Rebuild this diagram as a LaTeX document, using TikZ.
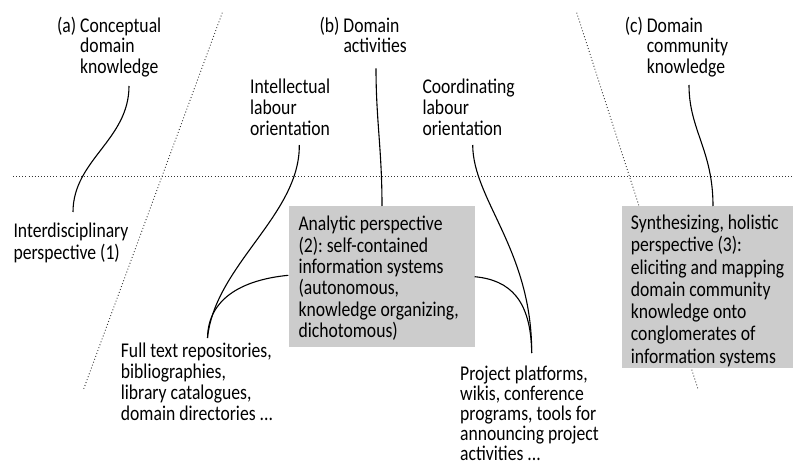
\documentclass[tikz,border=0pt]{standalone}
\usepackage{fontspec}
\setmainfont{Carlito}[FakeStretch=0.84]
\usetikzlibrary{calc}
% first-line strut: puts the first baseline a fixed 18pt under the node's top
\newcommand\firstline{\rule{0pt}{18pt}}
% keep the line pitch exactly at the baselineskip, and plain spaces after punctuation
\AtBeginDocument{\setlength\lineskiplimit{-50pt}\frenchspacing}
\begin{document}
\begin{tikzpicture}[x=1pt,y=-1pt,
  txt/.style={anchor=north west,inner sep=0pt,align=left,text=black,
    font={\fontsize{21}{#1}\selectfont}},
  txt/.default=20.8,
  panel/.style={fill=black!20,draw=none,inner sep=0pt,anchor=north west},
  link/.style={line width=1.1pt,black},
  divider/.style={line width=0.9pt,black!80,dash pattern=on 0.9pt off 2.2pt}]
\useasboundingbox (0,0) rectangle (793,465);

% dotted dividers
\draw[divider] (13,176.7) -- (793,176.7);
\draw[divider] (222.3,12.7) -- (83.3,390);
\draw[divider] (576.7,12.7) -- (698.3,390);

% grey panels
\node[panel,minimum width=186pt,minimum height=141pt] (box1) at (288.3,206) {};
\node[panel,minimum width=171.3pt,minimum height=162pt] (box2) at (621.7,206) {};

% headings
\node[txt=20.3] (a) at (80,14.5) {\firstline\llap{(a)\ }Conceptual\\domain\\knowledge};
\node[txt=20.3] (b) at (343.3,14.5) {\firstline\llap{(b)\ }Domain\\activities};
\node[txt=20.3] (c) at (646.7,14.5) {\firstline\llap{(c)\ }Domain\\community\\knowledge};
\node[txt=20.8] (il) at (250,75.5) {\firstline Intellectual\\labour\\orientation};
\node[txt=20.8] (cl) at (422.3,75.5) {\firstline Coordinating\\labour\\orientation};

% perspectives
\node[txt=22] (idp) at (13.3,219.3) {\firstline Interdisciplinary\\perspective (1)};
\node[txt=21.4] (t1) at (298.3,212.5) {\firstline Analytic perspective\\(2): self-contained\\information systems\\(autonomous,\\knowledge organizing,\\dichotomous)};
\node[txt=22.3] (t2) at (630.7,211.3) {\firstline Synthesizing, holistic\\perspective (3):\\eliciting and mapping\\domain community\\knowledge onto\\conglomerates of\\information systems};

% examples
\node[txt=20.9] (ft) at (120.7,339.3) {\firstline Full text repositories,\\bibliographies,\\library catalogues,\\domain directories ...};
\node[txt=20] (pp) at (460,362) {\firstline Project platforms,\\wikis, conference\\programs, tools for\\announcing project\\activities ...};

% connector end points
\coordinate (ftTop) at (207.5,338);
\coordinate (ppTop) at (531.7,353);

% connectors
\draw[link] (129,86) .. controls (129,140) and (73,160) .. (73,212);
\draw[link] (376,68.3) .. controls (376,120) and (382,150) .. (box1.north -| 382,0);
\draw[link] (299.3,145) .. controls (300,215) and (215,265) .. (ftTop);
\draw[link] (box1.west |- 0,275.3) .. controls (240,280) and (208,300) .. (ftTop);
\draw[link] (472.7,145) .. controls (473,200) and (532,250) .. (ppTop);
\draw[link] (box1.east |- 0,276.7) .. controls (510,280) and (531,300) .. (ppTop);
\draw[link] (689,85) .. controls (689,130) and (713,150) .. (box2.north -| 713,0);
\end{tikzpicture}
\end{document}
